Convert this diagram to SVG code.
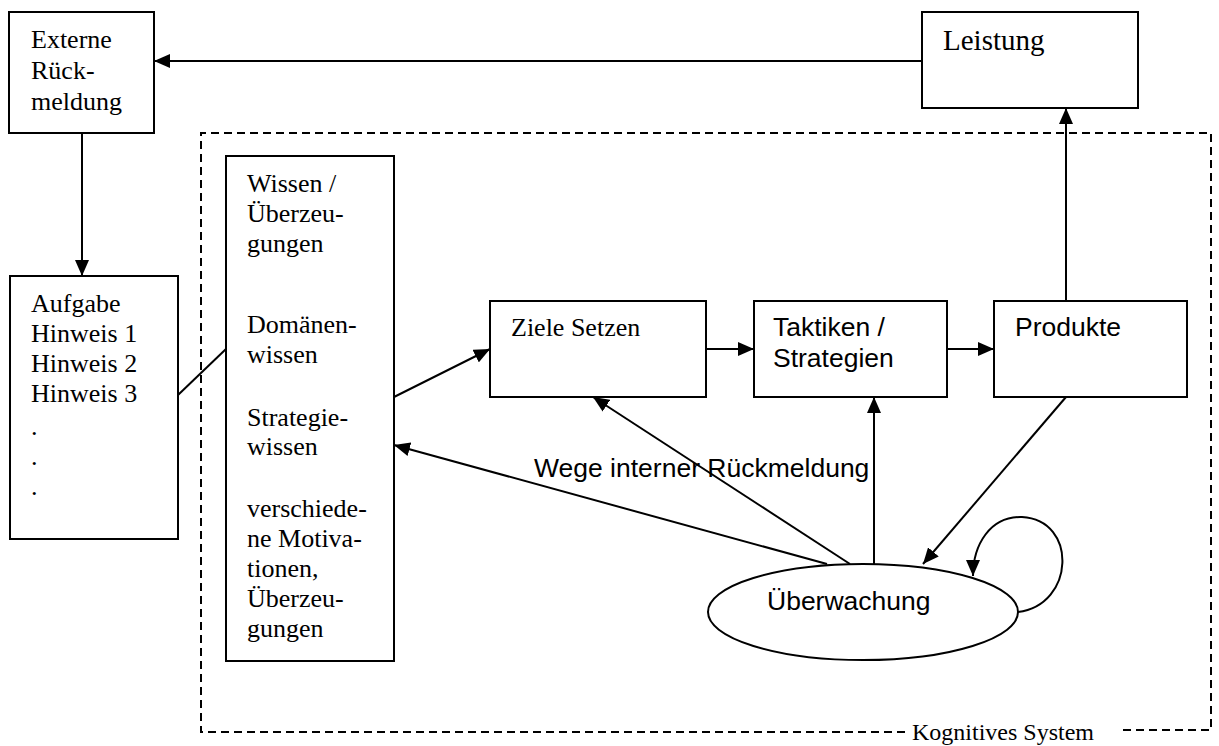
<svg xmlns="http://www.w3.org/2000/svg" width="1219" height="746" viewBox="0 0 1219 746">
  <style>
    .box { fill: #fff; stroke: #000; stroke-width: 2; }
    .serif { font-family: "Liberation Serif", "Times New Roman", serif; font-size: 26px; fill: #000; }
    .sans { font-family: "Liberation Sans", Arial, sans-serif; font-size: 26.5px; fill: #000; }
    .edge { fill: none; stroke: #000; stroke-width: 2; }
    .dash { fill: none; stroke: #000; stroke-width: 2; stroke-dasharray: 8 5; }
  </style>
  <defs>
    <marker id="arrow" viewBox="0 0 16 14" refX="16" refY="7" markerWidth="16" markerHeight="14" markerUnits="userSpaceOnUse" orient="auto">
      <path d="M0,0 L16,7 L0,14 Z" fill="#000"/>
    </marker>
  </defs>
  <rect width="1219" height="746" fill="#fff"/>

  <!-- cognitive system boundary -->
  <g id="kognitives-system">
    <path class="dash" d="M905,732 L201,732 L201,133 L1211,133 L1211,730 L1118,730"/>
    <text class="serif" x="912" y="740" style="font-size:24px">Kognitives System</text>
  </g>

  <g id="connectors">
    <line class="edge" x1="922" y1="61" x2="154" y2="61" marker-end="url(#arrow)"/>
    <line class="edge" x1="82" y1="133" x2="82" y2="276" marker-end="url(#arrow)"/>
    <line class="edge" x1="178" y1="395" x2="226" y2="349"/>
    <line class="edge" x1="394" y1="397" x2="490" y2="349" marker-end="url(#arrow)"/>
    <line class="edge" x1="706" y1="349" x2="754" y2="349" marker-end="url(#arrow)"/>
    <line class="edge" x1="947" y1="349" x2="994" y2="349" marker-end="url(#arrow)"/>
    <line class="edge" x1="1066" y1="301" x2="1066" y2="108" marker-end="url(#arrow)"/>
    <line class="edge" x1="1066" y1="397" x2="923" y2="564" marker-end="url(#arrow)"/>
    <line class="edge" x1="874" y1="564" x2="874" y2="397" marker-end="url(#arrow)"/>
    <line class="edge" x1="850" y1="564" x2="593" y2="397" marker-end="url(#arrow)"/>
    <line class="edge" x1="827" y1="564" x2="394" y2="445" marker-end="url(#arrow)"/>
    <path class="edge" d="M1018,612 C1075,605 1078,520 1022,517 C990,516 973,545 973,576" marker-end="url(#arrow)"/>
    <text class="sans" x="534" y="477">Wege interner Rückmeldung</text>
  </g>

  <g id="externe-rueckmeldung">
    <rect class="box" x="9" y="12" width="145" height="121"/>
    <text class="serif" x="31" y="48">Externe</text>
    <text class="serif" x="31" y="79">Rück-</text>
    <text class="serif" x="31" y="110">meldung</text>
  </g>

  <g id="leistung">
    <rect class="box" x="922" y="12" width="216" height="96"/>
    <text class="serif" x="943" y="50" style="font-size:29px">Leistung</text>
  </g>

  <g id="aufgabe">
    <rect class="box" x="10" y="276" width="168" height="263"/>
    <text class="serif" x="31" y="312">Aufgabe</text>
    <text class="serif" x="31" y="342">Hinweis 1</text>
    <text class="serif" x="31" y="372">Hinweis 2</text>
    <text class="serif" x="31" y="402">Hinweis 3</text>
    <text class="serif" x="31" y="435">.</text>
    <text class="serif" x="31" y="465">.</text>
    <text class="serif" x="31" y="495">.</text>
  </g>

  <g id="wissen">
    <rect class="box" x="226" y="156" width="168" height="505"/>
    <text class="serif" x="247" y="192">Wissen /</text>
    <text class="serif" x="247" y="222">Überzeu-</text>
    <text class="serif" x="247" y="252">gungen</text>
    <text class="serif" x="247" y="333">Domänen-</text>
    <text class="serif" x="247" y="363">wissen</text>
    <text class="serif" x="247" y="426">Strategie-</text>
    <text class="serif" x="247" y="455">wissen</text>
    <text class="serif" x="247" y="517">verschiede-</text>
    <text class="serif" x="247" y="547">ne Motiva-</text>
    <text class="serif" x="247" y="577">tionen,</text>
    <text class="serif" x="247" y="607">Überzeu-</text>
    <text class="serif" x="247" y="637">gungen</text>
  </g>

  <g id="ziele-setzen">
    <rect class="box" x="490" y="301" width="216" height="96"/>
    <text class="serif" x="511" y="336">Ziele Setzen</text>
  </g>

  <g id="taktiken-strategien">
    <rect class="box" x="754" y="301" width="193" height="96"/>
    <text class="sans" x="773" y="336">Taktiken /</text>
    <text class="sans" x="773" y="367">Strategien</text>
  </g>

  <g id="produkte">
    <rect class="box" x="994" y="301" width="193" height="96"/>
    <text class="sans" x="1015" y="336">Produkte</text>
  </g>

  <g id="ueberwachung">
    <ellipse class="box" cx="863" cy="612" rx="155" ry="48"/>
    <text class="sans" x="767" y="610">Überwachung</text>
  </g>
</svg>
